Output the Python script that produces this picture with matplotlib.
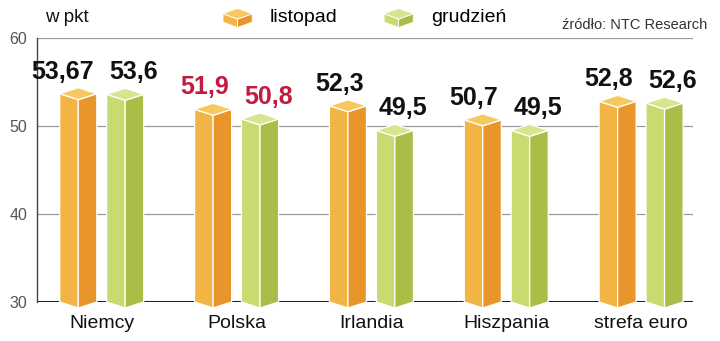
import matplotlib.pyplot as plt
from matplotlib.patches import Polygon
from matplotlib.legend_handler import HandlerBase

countries = ["Niemcy", "Polska", "Irlandia", "Hiszpania", "strefa euro"]
listopad = [53.67, 51.9, 52.3, 50.7, 52.8]
grudzien = [53.6, 50.8, 49.5, 49.5, 52.6]
lab_nov = ["53,67", "51,9", "52,3", "50,7", "52,8"]
lab_dec = ["53,6", "50,8", "49,5", "49,5", "52,6"]
yticks = [30, 40, 50, 60]

# colours: left face, right face, top
orange = ["#f2b445", "#e8962c", "#f8c860"]
green = ["#c8da70", "#aabd46", "#d6e58e"]
red = "#c41a40"

plt.rcParams["font.family"] = ["Liberation Sans", "DejaVu Sans"]

fig = plt.figure(figsize=(7.2, 3.41), dpi=100)
ax = fig.add_axes([37 / 720, 39 / 341, 656 / 720, 264 / 341])
ax.set_xlim(-0.48, 4.385)
ax.set_ylim(30, 60)

W = 0.275   # bar width (category units)
OFF = 0.174  # offset of each bar from group centre
D = 0.68    # half-height of the top diamond (data units)
BASE = 30


def prism(ax, xc, val, cols):
    x0, x1 = xc - W / 2, xc + W / 2
    left = [(x0, BASE), (x0, val), (xc, val - D), (xc, BASE - D)]
    right = [(xc, BASE - D), (xc, val - D), (x1, val), (x1, BASE)]
    top = [(x0, val), (xc, val - D), (x1, val), (xc, val + D)]
    for pts, c in zip([left, right, top], cols):
        ax.add_patch(Polygon(pts, closed=True, facecolor=c, edgecolor="white",
                             linewidth=0.9, clip_on=False, zorder=3))


# grid and axes
for t in yticks[1:]:
    ax.axhline(t, color="#9a9a9a", lw=0.9, zorder=1)
ax.axhline(30, color="#222222", lw=2.2, zorder=2)
for s in ax.spines.values():
    s.set_visible(False)
ax.plot([0, 0], [0, 1], transform=ax.transAxes, color="#444444", lw=1.0,
        clip_on=False, zorder=2)
ax.set_yticks(yticks)
ax.set_yticklabels([str(t) for t in yticks], color="#555555", fontsize=11.5)
ax.tick_params(axis="y", length=0, pad=7)
ax.set_xticks(range(len(countries)))
ax.set_xticklabels(countries, fontsize=14, color="#111111")
ax.tick_params(axis="x", length=0, pad=9)

for i in range(len(countries)):
    col = red if countries[i] == "Polska" else "#111111"
    # listopad: label right-aligned with the bar's right edge
    xc = i - OFF
    prism(ax, xc, listopad[i], orange)
    ax.annotate(lab_nov[i], (xc + W / 2, listopad[i] + D), xytext=(-2, 3),
                textcoords="offset points", ha="right", va="bottom",
                fontsize=18, fontweight="bold", color=col)
    # grudzien: label left-aligned with the bar's left edge
    xc = i + OFF
    prism(ax, xc, grudzien[i], green)
    ax.annotate(lab_dec[i], (xc - W / 2, grudzien[i] + D), xytext=(2, 3),
                textcoords="offset points", ha="left", va="bottom",
                fontsize=18, fontweight="bold", color=col)


class PrismHandler(HandlerBase):
    def __init__(self, cols):
        super().__init__()
        self.cols = cols

    def create_artists(self, legend, orig_handle, xdescent, ydescent,
                       width, height, fontsize, trans):
        x0, x1 = -xdescent, -xdescent + width
        xc = (x0 + x1) / 2
        y0 = -ydescent
        h = height
        d = h * 0.33
        yt = y0 + h * 0.62
        left = [(x0, y0 + d * 0.3), (x0, yt), (xc, yt - d), (xc, y0 - d * 0.7)]
        right = [(xc, y0 - d * 0.7), (xc, yt - d), (x1, yt), (x1, y0 + d * 0.3)]
        top = [(x0, yt), (xc, yt - d), (x1, yt), (xc, yt + d)]
        arts = []
        for pts, c in zip([left, right, top], self.cols):
            p = Polygon(pts, closed=True, facecolor=c, edgecolor="white",
                        linewidth=0.6, transform=trans)
            arts.append(p)
        return arts


h1 = Polygon([(0, 0)], label="listopad")
h2 = Polygon([(0, 0)], label="grudzień")
fig.legend([h1, h2], ["listopad", "grudzień"], loc="center left",
           bbox_to_anchor=(223 / 720, 1 - 17 / 341), ncol=2, frameon=False,
           fontsize=14, handlelength=1.5, handleheight=0.9, handletextpad=0.9,
           columnspacing=2.4, borderpad=0, borderaxespad=0,
           handler_map={h1: PrismHandler(orange), h2: PrismHandler(green)})

fig.text(45 / 720, 1 - 17 / 341, "w pkt", fontsize=13.5, color="#111111",
         va="center", ha="left")
fig.text(707 / 720, 1 - 25 / 341, "źródło: NTC Research", fontsize=10.5,
         color="#333333", va="center", ha="right")

fig.savefig("out.png", dpi=100)
